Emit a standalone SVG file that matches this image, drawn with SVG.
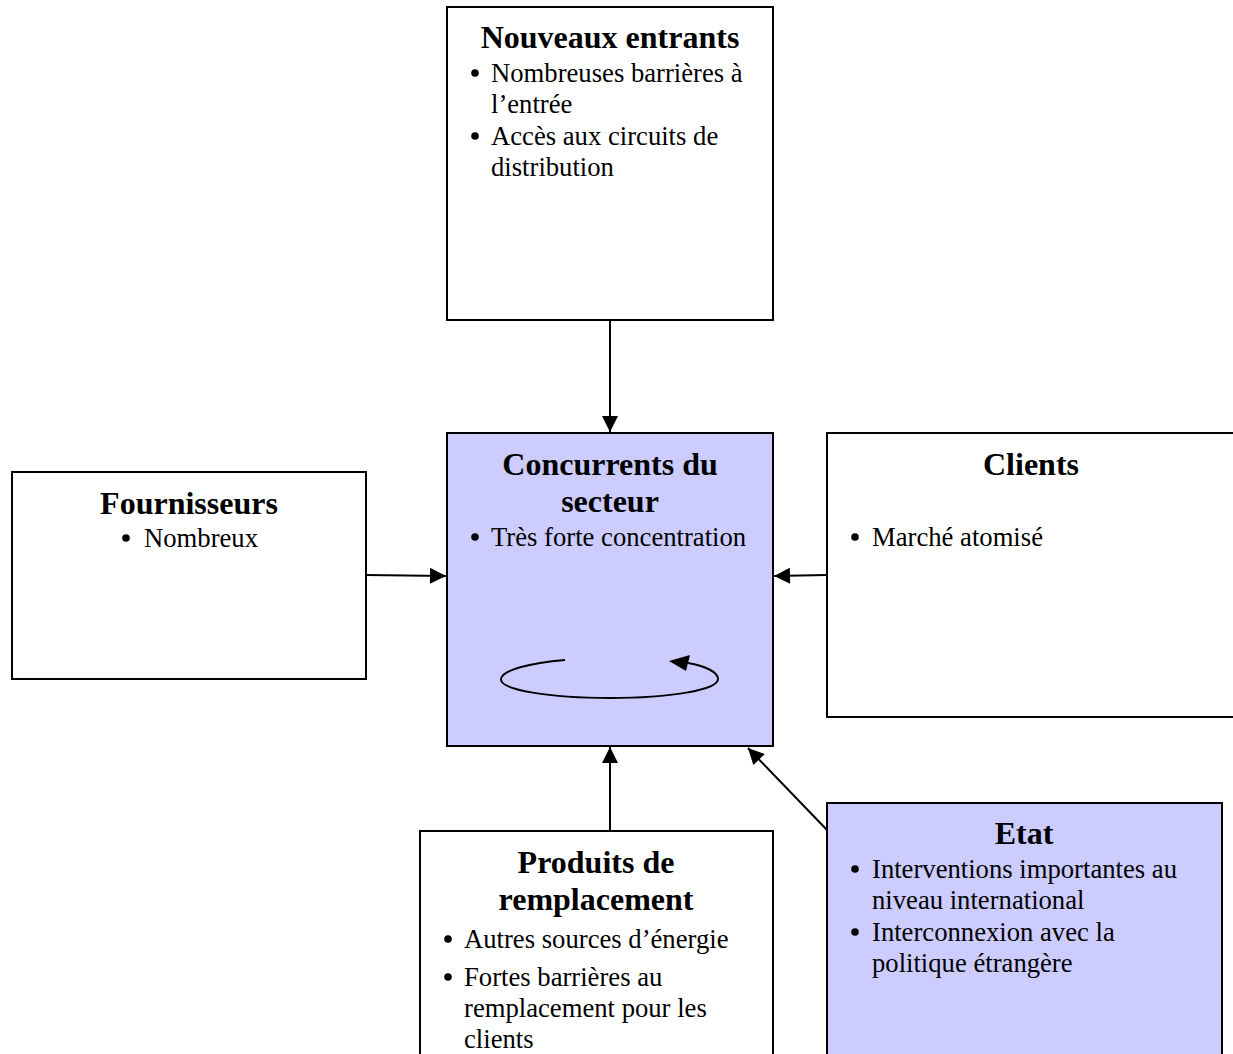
<svg xmlns="http://www.w3.org/2000/svg" width="1233" height="1054" viewBox="0 0 1233 1054">
<style>
.box{fill:#fff;stroke:#000;stroke-width:2}
.blue{fill:#ccccff}
.t{font-family:"Liberation Serif","Times New Roman",serif;font-weight:bold;font-size:32px;text-anchor:middle;fill:#000}
.b{font-family:"Liberation Serif","Times New Roman",serif;font-size:26.67px;fill:#000}
.c{stroke:#000;stroke-width:2;fill:none}
</style>
<defs>
<marker id="ah2" viewBox="0 0 10 10" refX="10" refY="5" markerWidth="18" markerHeight="16" markerUnits="userSpaceOnUse" orient="auto">
<path d="M0,0 L10,5 L0,10 Z" fill="#000"/>
</marker>
</defs>
<g id="connectors">
<line class="c" x1="610" y1="320" x2="610" y2="432" marker-end="url(#ah2)"/>
<line class="c" x1="366" y1="575" x2="446" y2="576" marker-end="url(#ah2)"/>
<line class="c" x1="827" y1="575" x2="774" y2="576" marker-end="url(#ah2)"/>
<line class="c" x1="610" y1="831" x2="610" y2="747" marker-end="url(#ah2)"/>
<line class="c" x1="827" y1="830" x2="748" y2="748" marker-end="url(#ah2)"/>
</g>
<g id="nouveaux">
<rect class="box" x="447" y="7" width="326" height="313"/>
<text class="t" x="610" y="48">Nouveaux entrants</text>
<circle cx="475" cy="73" r="3.8"/>
<text class="b" x="491" y="82">Nombreuses barrières à</text>
<text class="b" x="491" y="113">l’entrée</text>
<circle cx="475" cy="136" r="3.8"/>
<text class="b" x="491" y="145">Accès aux circuits de</text>
<text class="b" x="491" y="176">distribution</text>
</g>
<g id="concurrents">
<rect class="box blue" x="447" y="433" width="326" height="313"/>
<text class="t" x="610" y="475">Concurrents du</text>
<text class="t" x="610" y="512">secteur</text>
<circle cx="475" cy="537" r="3.8"/>
<text class="b" x="491" y="546">Très forte concentration</text>
<path class="c" d="M565,660 C530,663 502,670 501,679 C500,690 550,698 610,698 C670,698 718,690 718,679 C718,672 705,666 688,663" />
<path d="M669,661 L690,655 L686,671 Z" fill="#000"/>
</g>
<g id="fournisseurs">
<rect class="box" x="12" y="472" width="354" height="207"/>
<text class="t" x="189" y="514">Fournisseurs</text>
<circle cx="126" cy="538" r="3.8"/>
<text class="b" x="144" y="547">Nombreux</text>
</g>
<g id="clients">
<rect class="box" x="827" y="433" width="420" height="284"/>
<text class="t" x="1031" y="475">Clients</text>
<circle cx="855" cy="537" r="3.8"/>
<text class="b" x="872" y="546">Marché atomisé</text>
</g>
<g id="produits">
<rect class="box" x="420" y="831" width="353" height="240"/>
<text class="t" x="596" y="873">Produits de</text>
<text class="t" x="596" y="910">remplacement</text>
<circle cx="448" cy="939" r="3.8"/>
<text class="b" x="464" y="948">Autres sources d’énergie</text>
<circle cx="448" cy="977" r="3.8"/>
<text class="b" x="464" y="986">Fortes barrières au</text>
<text class="b" x="464" y="1017">remplacement pour les</text>
<text class="b" x="464" y="1048">clients</text>
</g>
<g id="etat">
<rect class="box blue" x="827" y="803" width="395" height="270"/>
<text class="t" x="1024" y="844">Etat</text>
<circle cx="855" cy="869" r="3.8"/>
<text class="b" x="872" y="878">Interventions importantes au</text>
<text class="b" x="872" y="909">niveau international</text>
<circle cx="855" cy="932" r="3.8"/>
<text class="b" x="872" y="941">Interconnexion avec la</text>
<text class="b" x="872" y="972">politique étrangère</text>
</g>
</svg>
